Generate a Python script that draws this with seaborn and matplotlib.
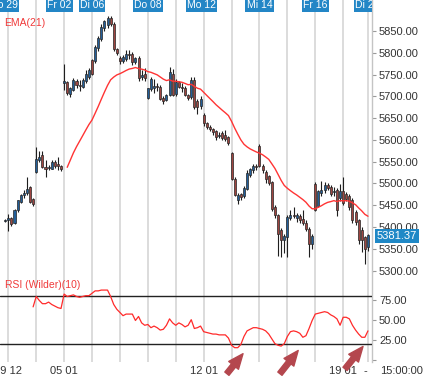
import numpy as np
import pandas as pd
import matplotlib
matplotlib.use("Agg")
import matplotlib.pyplot as plt
import seaborn as sns

# ---------------- data (hourly bars) ----------------
opens = [5414, 5415, 5421, 5410, 5438, 5457, 5473, 5477, 5492, 5465,
         5526, 5553, 5565, 5538, 5535, 5534, 5549, 5545, 5540,
         5730, 5733, 5705, 5714, 5735, 5726, 5722, 5735, 5745,
         5783, 5781, 5812, 5832, 5858, 5864, 5879, 5866, 5808,
         5787, 5780, 5785, 5797, 5797, 5778, 5787, 5745, 5752,
         5697, 5716, 5720, 5723, 5722, 5696, 5692, 5703, 5752,
         5705, 5733, 5722, 5720, 5703, 5699, 5737, 5690, 5678,
         5657, 5638, 5630, 5626, 5620, 5610, 5615, 5612, 5607,
         5569, 5511, 5461, 5475, 5470, 5488, 5520, 5530, 5540,
         5585, 5541, 5526, 5518, 5503, 5446, 5428, 5392, 5369,
         5378, 5420, 5428, 5420, 5426, 5418, 5410, 5396, 5361,
         5499, 5448, 5478, 5484, 5496, 5492, 5480, 5484, 5466,
         5482, 5476, 5472, 5461, 5434, 5415, 5392, 5376, 5353]
highs = [5418, 5430, 5423, 5442, 5463, 5476, 5484, 5515, 5494, 5466,
         5584, 5575, 5575, 5553, 5542, 5553, 5553, 5561, 5542,
         5775, 5736, 5722, 5742, 5740, 5738, 5742, 5760, 5764,
         5786, 5818, 5838, 5865, 5876, 5885, 5884, 5870, 5810,
         5792, 5795, 5806, 5806, 5802, 5790, 5792, 5760, 5764,
         5720, 5745, 5740, 5730, 5725, 5700, 5706, 5767, 5762,
         5740, 5736, 5730, 5724, 5706, 5745, 5745, 5695, 5700,
         5662, 5642, 5634, 5628, 5623, 5618, 5620, 5622, 5610,
         5572, 5514, 5478, 5478, 5495, 5530, 5535, 5545, 5545,
         5590, 5545, 5530, 5520, 5506, 5450, 5430, 5398, 5385,
         5428, 5440, 5445, 5432, 5430, 5440, 5415, 5400, 5385,
         5503, 5486, 5505, 5503, 5500, 5496, 5492, 5490, 5498,
         5515, 5480, 5476, 5466, 5438, 5418, 5400, 5380, 5384]
lows = [5411, 5390, 5402, 5407, 5435, 5455, 5466, 5474, 5455, 5448,
        5524, 5550, 5536, 5515, 5530, 5532, 5536, 5530, 5528,
        5715, 5703, 5699, 5712, 5720, 5712, 5718, 5730, 5740,
        5748, 5776, 5805, 5826, 5850, 5858, 5862, 5804, 5794,
        5774, 5777, 5782, 5786, 5772, 5774, 5736, 5738, 5736,
        5694, 5712, 5707, 5712, 5692, 5682, 5690, 5700, 5700,
        5700, 5718, 5710, 5700, 5692, 5695, 5672, 5660, 5672,
        5632, 5626, 5620, 5612, 5600, 5604, 5600, 5598, 5588,
        5508, 5470, 5453, 5462, 5467, 5485, 5515, 5525, 5530,
        5538, 5525, 5500, 5497, 5436, 5420, 5334, 5331, 5340,
        5330, 5415, 5420, 5412, 5410, 5405, 5390, 5331, 5350,
        5436, 5445, 5472, 5478, 5484, 5472, 5470, 5426, 5460,
        5450, 5460, 5440, 5410, 5405, 5362, 5342, 5315, 5345]
closes = [5416, 5421, 5407, 5440, 5461, 5473, 5478, 5488, 5457, 5453,
          5557, 5561, 5538, 5534, 5538, 5549, 5540, 5539, 5534,
          5735, 5707, 5719, 5737, 5726, 5724, 5737, 5752, 5760,
          5751, 5814, 5834, 5860, 5872, 5879, 5866, 5808, 5799,
          5780, 5791, 5798, 5795, 5778, 5787, 5741, 5748, 5742,
          5718, 5740, 5723, 5721, 5695, 5690, 5703, 5756, 5703,
          5733, 5722, 5720, 5703, 5697, 5737, 5676, 5676, 5695,
          5638, 5630, 5624, 5618, 5607, 5612, 5605, 5603, 5592,
          5511, 5473, 5473, 5468, 5490, 5524, 5532, 5540, 5538,
          5541, 5530, 5510, 5500, 5442, 5428, 5385, 5369, 5380,
          5423, 5428, 5426, 5428, 5415, 5410, 5395, 5361, 5380,
          5440, 5482, 5484, 5496, 5490, 5476, 5482, 5438, 5482,
          5455, 5465, 5446, 5415, 5411, 5369, 5369, 5350, 5381.37]
rsi_values = [None] * 9 + [
    67, 80, 75, 71, 71, 73, 70, 68, 66, 65,
    83, 80, 81, 82, 80, 79, 80, 81, 81, 84,
    87, 87, 88, 88, 88, 80, 70, 64, 60, 56,
    58, 58, 58, 50, 55, 47, 44, 45, 41, 43,
    41, 38, 39, 44, 52, 47, 44, 47, 45, 42,
    44, 51, 40, 41, 43, 36, 35, 34, 33, 33,
    32, 32, 32, 28, 19, 16, 16, 20, 30, 37,
    39, 41, 41, 40, 39, 37, 33, 27, 21, 19,
    18, 21, 30, 36, 37, 36, 34, 29, 31, 40,
    50, 58, 59, 60, 61, 60, 57, 55, 52, 44,
    54, 54, 52, 44, 38, 33, 29, 29, 37]

day_starts = [1, 10, 19, 28, 37, 46, 55, 64, 73, 82, 91, 100, 109, 117]
top_labels = ["Mo 29", "Fr 02", "Di 06", "Do 08", "Mo 12", "Mi 14", "Fr 16", "Di 20"]
top_label_pos = [-0.7, 17.5, 28, 46, 63.3, 82, 100, 116.7]
bottom_labels = ["29 12", "05 01", "12 01", "19 01", "-"]
bottom_label_pos = [1, 19, 64, 109, 116.3]
price_ticks = [5300, 5350, 5400, 5450, 5500, 5550, 5600, 5650, 5700, 5750, 5800, 5850]
rsi_ticks = [0, 25, 50, 75]
rsi_tick_labels = ["", "25.00", "50.00", "75.00"]

# ---------------- frame ----------------
df = pd.DataFrame({"open": opens, "high": highs, "low": lows, "close": closes,
                   "rsi": pd.array(rsi_values, dtype="Float64").astype(float)})
df["bar"] = np.arange(len(df))
df["ema"] = df["close"].ewm(span=21, adjust=False).mean()
df.loc[df["bar"] < 20, "ema"] = np.nan
up = df["close"] >= df["open"]

sns.set_style("white")
plt.rcParams["font.family"] = ["Liberation Sans", "DejaVu Sans"]

W, H = 425, 377
fig = plt.figure(figsize=(W / 100, H / 100), dpi=100)
TOP_H = 272
ax = fig.add_axes([0, 1 - TOP_H / H, 372 / W, TOP_H / H])
ax2 = fig.add_axes([0, 1 - 362 / H, 372 / W, 90 / H])

xl = (-1.68, 118.3)
for a in (ax, ax2):
    a.set_xlim(*xl)
    for s in ("top", "left", "bottom"):
        a.spines[s].set_visible(False)
    a.spines["right"].set_color("#c4c4c4")
    a.spines["right"].set_linewidth(1.0)
    for d in day_starts:
        a.axvline(d, color="#d6d6d6", lw=1.2, zorder=0)

# ---------------- price panel ----------------
ax.set_ylim(5296.6, 5921.2)
ax.vlines(df["bar"], df["low"], df["high"], color="#1e1e1e", lw=0.8, zorder=2)
body_h = (df["close"] - df["open"]).abs().clip(lower=1.2)
body_b = df[["open", "close"]].min(axis=1)
ax.bar(df["bar"], body_h, bottom=body_b, width=0.66,
       color=np.where(up, "#235e98", "#9e4541"), edgecolor="#262626",
       linewidth=0.5, zorder=3)
sns.lineplot(data=df, x="bar", y="ema", ax=ax, color="#ff3434", lw=1.0, zorder=4)
ax.set_xlabel("")
ax.set_ylabel("")
ax.set_xticks([])
ax.yaxis.tick_right()
ax.set_yticks(price_ticks)
ax.set_yticklabels([f"{v:.2f}" for v in price_ticks])
ax.tick_params(axis="y", length=3, width=0.8, color="#9a9a9a", labelsize=8,
               labelcolor="#333333", pad=2)

ax.text(4 / 372, 1 - 23 / TOP_H, "EMA(21)", transform=ax.transAxes, color="#f03a3a",
        fontsize=7.5, va="center", ha="left")

for lab, pos in zip(top_labels, top_label_pos):
    ax.text(pos, 1 - 5.5 / TOP_H, lab, transform=ax.get_xaxis_transform(),
            ha="center", va="center", color="white", fontsize=7.5, clip_on=True,
            bbox=dict(boxstyle="square,pad=0.12", facecolor="#2386c6", edgecolor="none"),
            zorder=6)

ax.annotate(f"{closes[-1]:.2f}", xy=(1, closes[-1]), xycoords=("axes fraction", "data"),
            xytext=(5, -1), textcoords="offset pixels", ha="left", va="center",
            color="white", fontsize=8, annotation_clip=False, zorder=7,
            bbox=dict(boxstyle="square,pad=0.16", facecolor="#1f88c6", edgecolor="none"))

# ---------------- RSI panel ----------------
ax2.set_ylim(-1.9, 110.6)
sns.lineplot(data=df, x="bar", y="rsi", ax=ax2, color="#ff2a2a", lw=0.9, zorder=4)
ax2.axhline(80, color="#222222", lw=1.0, zorder=3)
ax2.axhline(20, color="#222222", lw=1.0, zorder=3)
ax2.set_xlabel("")
ax2.set_ylabel("")
ax2.yaxis.tick_right()
ax2.set_yticks(rsi_ticks)
ax2.set_yticklabels(rsi_tick_labels)
ax2.tick_params(axis="y", length=3, width=0.8, color="#9a9a9a", labelsize=8,
                labelcolor="#333333", pad=2)
ax2.set_xticks(bottom_label_pos)
ax2.set_xticklabels(bottom_labels)
ax2.tick_params(axis="x", length=0, labelsize=8, labelcolor="#333333", pad=3)
ax2.text(5 / 372, 1 - 13 / 90, "RSI (Wilder)(10)", transform=ax2.transAxes,
         color="#f03a3a", fontsize=7.5, va="center", ha="left")

fig.text(380 / W, 1 - 371 / H, "15:00:00", ha="left", va="center", fontsize=8,
         color="#333333")

arrow_tails = [(71.5, -16.5), (88.6, -16.5), (109.6, -10.5)]
arrow_heads = [(76.7, 8.5), (94.5, 12.5), (115.4, 17.5)]
for t, h in zip(arrow_tails, arrow_heads):
    ax2.annotate("", xy=h, xytext=t, annotation_clip=False,
                 arrowprops=dict(arrowstyle="simple,head_length=0.9,head_width=0.75,tail_width=0.32",
                                 color="#b4474e", mutation_scale=12,
                                 shrinkA=0, shrinkB=0), zorder=6)

fig.savefig("out.png", dpi=100)
